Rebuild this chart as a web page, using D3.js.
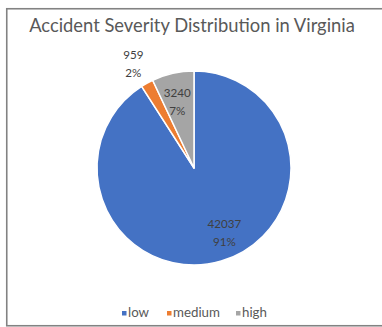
<!DOCTYPE html>
<html>
<head>
<meta charset="utf-8">
<script src="https://cdn.jsdelivr.net/npm/d3@7"></script>
<style>
  html, body { margin: 0; padding: 0; background: #fff; }
  svg { display: block; }
</style>
</head>
<body>
<svg id="chart" width="382" height="327"></svg>
<script>
// ---- data ----
const categories = ["low", "medium", "high"];
const values = [42037, 959, 3240];
const colors = ["#4472C4", "#ED7D31", "#A5A5A5"];
const title = "Accident Severity Distribution in Virginia";

// ---- layout ----
const W = 382, H = 327;
const cx = 194, cy = 168, R = 97;
const labelPlace = [
  { r: 0.75, dx: 10, dy: -5 },
  { r: 1.24, dx: -2.5, dy: 1 },
  { r: 0.70, dx: -2, dy: 0 }
];
const legendTextX = [128, 173, 242];
const FONT = "Lato, 'Open Sans', sans-serif";

const svg = d3.select("#chart");

// frame
svg.append("rect")
  .attr("x", 6.75).attr("y", 8.75)
  .attr("width", W).attr("height", 325.75 - 8.75)
  .attr("fill", "#fff")
  .attr("stroke", "#828282")
  .attr("stroke-width", 1.6);

// helper: font size so that a sample string has a target width
function fitSize(sample, target, base) {
  const tmp = svg.append("text").attr("font-family", FONT).attr("font-size", base).text(sample);
  const w = tmp.node().getComputedTextLength();
  tmp.remove();
  return base * target / w;
}

// title, fit to measured width
const t = svg.append("text")
  .attr("x", 192).attr("y", 32)
  .attr("text-anchor", "middle")
  .attr("font-family", FONT)
  .attr("font-size", 18)
  .attr("fill", "#595959")
  .text(title);
const tw = t.node().getComputedTextLength();
t.attr("font-size", 18 * 326 / tw);

const labelSize = Math.min(14, fitSize("3240", 27, 12));
const legendSize = Math.min(14.5, fitSize("medium", 47, 12));

// pie
const total = d3.sum(values);
const pie = d3.pie().sort(null).value(d => d)
  .startAngle(0).endAngle(2 * Math.PI);
const arcs = pie(values);
const arc = d3.arc().innerRadius(0).outerRadius(R);

const g = svg.append("g").attr("transform", `translate(${cx},${cy})`);
g.selectAll("path.slice")
  .data(arcs)
  .join("path")
  .attr("class", "slice")
  .attr("d", arc)
  .attr("fill", (d, i) => colors[i])
  .attr("stroke", "#fff")
  .attr("stroke-width", 1.5)
  .attr("stroke-linejoin", "round");

// labels
arcs.forEach((d, i) => {
  const p = labelPlace[i];
  const la = d3.arc().innerRadius(R * p.r).outerRadius(R * p.r);
  const [x, y] = la.centroid(d);
  const lx = x + p.dx, ly = y + p.dy;
  const pct = Math.round(values[i] / total * 100) + "%";
  const txt = g.append("text")
    .attr("text-anchor", "middle")
    .attr("font-family", FONT)
    .attr("font-size", labelSize)
    .attr("fill", "#404040");
  txt.append("tspan").attr("x", lx).attr("y", ly - 4.5).text(values[i]);
  txt.append("tspan").attr("x", lx).attr("y", ly + 13.5).text(pct);
});

// legend
const lg = svg.append("g");
categories.forEach((c, i) => {
  lg.append("rect")
    .attr("x", legendTextX[i] - 6).attr("y", 311)
    .attr("width", 4.5).attr("height", 4.5)
    .attr("fill", colors[i]);
  lg.append("text")
    .attr("x", legendTextX[i]).attr("y", 316.5)
    .attr("font-family", FONT)
    .attr("font-size", legendSize)
    .attr("fill", "#595959")
    .text(c);
});
</script>
</body>
</html>
